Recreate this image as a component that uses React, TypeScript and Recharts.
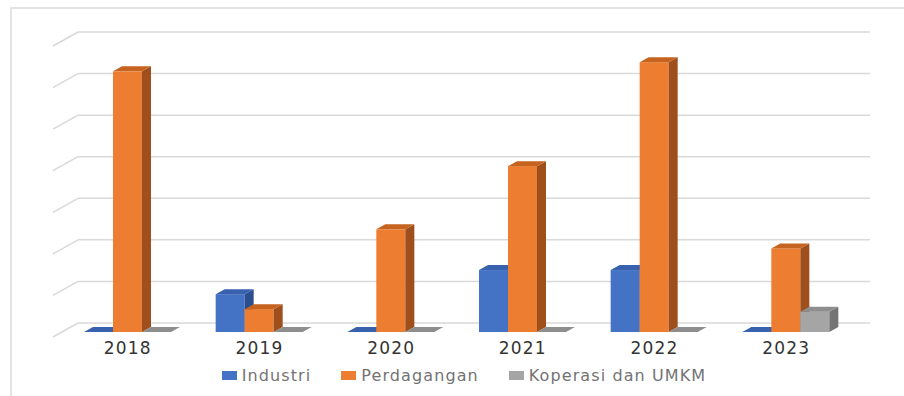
import React from "react";
import { BarChart, Bar, XAxis, YAxis, CartesianGrid, Legend } from "recharts";

const years = ["2018", "2019", "2020", "2021", "2022", "2023"];
const industri = [0, 9.1, 0, 14.9, 14.9, 0];
const perdagangan = [62.7, 5.5, 24.7, 39.9, 64.9, 20.1];
const koperasi = [0, 0, 0, 0, 0, 4.9];
const yTicks = [0, 10, 20, 30, 40, 50, 60, 70];

const seriesInfo = [
  { key: "industri", name: "Industri", front: "#4472C4", top: "#3862AE", side: "#2B4F8E" },
  { key: "perdagangan", name: "Perdagangan", front: "#ED7D31", top: "#C5631F", side: "#9E4F1B" },
  { key: "koperasi", name: "Koperasi dan UMKM", front: "#A5A5A5", top: "#8E8E8E", side: "#747474" },
];

const data = years.map((year, i) => ({
  year,
  industri: industri[i],
  perdagangan: perdagangan[i],
  koperasi: koperasi[i],
}));

// depth of the bars (3d look)
const DX = 9;
const DY = 5;

function makeBar3D(front: string, top: string, side: string) {
  return (props: any) => {
    const x = Number(props.x);
    const y = Number(props.y);
    const w = Number(props.width);
    const h = Math.max(0, Number(props.height) || 0);
    if (!isFinite(x) || !isFinite(y)) return <g />;
    return (
      <g>
        <rect x={x} y={y} width={w} height={h} fill={front} />
        <polygon
          points={`${x + w},${y} ${x + w + DX},${y - DY} ${x + w + DX},${y + h - DY} ${x + w},${y + h}`}
          fill={side}
        />
        <polygon
          points={`${x},${y} ${x + DX},${y - DY} ${x + w + DX},${y - DY} ${x + w},${y}`}
          fill={top}
        />
      </g>
    );
  };
}

// gridlines on the back wall plus the short diagonal on the side wall
const wallLine = (props: any) => {
  const { x1, x2, y1 } = props;
  return (
    <g key={props.key}>
      <line x1={x1 + 16} y1={y1 - 9} x2={x2 + 18} y2={y1 - 9} stroke="#d9d9d9" strokeWidth={1.5} />
      <line x1={x1 - 9} y1={y1 + 5} x2={x1 + 16} y2={y1 - 9} stroke="#d9d9d9" strokeWidth={1.5} />
    </g>
  );
};

const LegendContent = () => (
  <div
    style={{
      display: "flex",
      justifyContent: "center",
      paddingLeft: 24,
      fontFamily: "DejaVu Sans",
      fontSize: 16,
      letterSpacing: 1.1,
      color: "#737373",
    }}
  >
    {seriesInfo.map((s, i) => (
      <div
        key={s.key}
        style={{ display: "flex", alignItems: "center", marginLeft: i === 0 ? 0 : 30 }}
      >
        <span
          style={{ display: "inline-block", width: 15, height: 9, background: s.front, marginRight: 5 }}
        />
        <span>{s.name}</span>
      </div>
    ))}
  </div>
);

export default function App() {
  return (
    <div
      style={{
        position: "fixed",
        left: 0,
        top: 0,
        width: 904,
        height: 396,
        background: "#fff",
      }}
    >
      <div
        style={{
          position: "absolute",
          left: 10,
          top: 7,
          width: 894,
          height: 389,
          borderTop: "2px solid #e3e3e3",
          borderLeft: "2px solid #e3e3e3",
          boxSizing: "border-box",
        }}
      />
      <div style={{ position: "absolute", left: 0, top: 0 }}>
        <BarChart
          width={904}
          height={396}
          data={data}
          margin={{ top: 41, right: 52, left: 62, bottom: 34 }}
          barGap={0}
        >
          <CartesianGrid vertical={false} horizontal={wallLine} />
          <XAxis
            dataKey="year"
            height={30}
            axisLine={false}
            tickLine={false}
            tickMargin={4}
            tick={{
              fill: "#333333",
              fontSize: 17,
              fontFamily: "DejaVu Sans",
              letterSpacing: 1.2,
            }}
          />
          <YAxis hide domain={[0, 70]} ticks={yTicks} />
          <Legend
            layout="horizontal"
            verticalAlign="middle"
            align="center"
            wrapperStyle={{ top: 366, left: 0, width: 904 }}
            content={<LegendContent />}
          />
          {seriesInfo.map((s) => (
            <Bar
              key={s.key}
              dataKey={s.key}
              name={s.name}
              fill={s.front}
              barSize={29}
              isAnimationActive={false}
              shape={makeBar3D(s.front, s.top, s.side)}
            />
          ))}
        </BarChart>
      </div>
    </div>
  );
}
